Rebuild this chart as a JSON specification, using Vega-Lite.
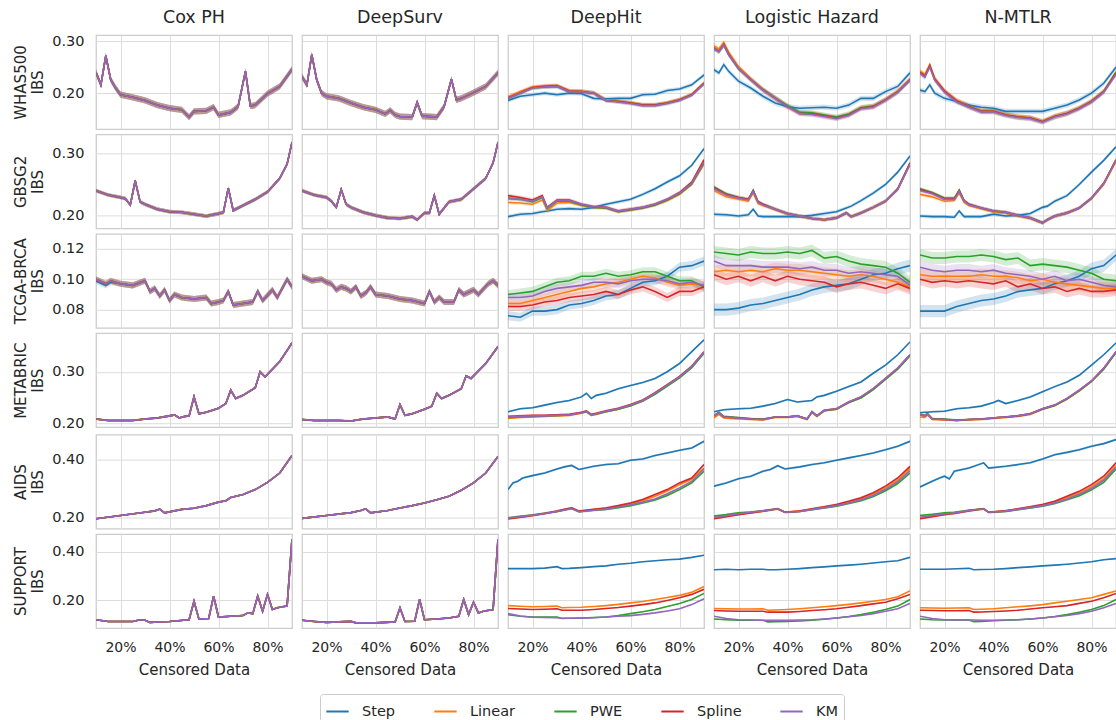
{
"$schema":"https://vega.github.io/schema/vega-lite/v6.json",
"padding":{"left":13,"top":8,"right":0,"bottom":5},
"background":"white",
"config":{
"font":"DejaVu Sans",
"view":{"stroke":"#cccccc","strokeWidth":1.25},
"axis":{"gridColor":"#dddddd","gridWidth":1,"domain":false,"ticks":false,"labelColor":"#262626","titleColor":"#262626","labelFontSize":14,"titleFontSize":15,"titleFontWeight":"normal"},
"axisY":{"labelPadding":11,"labelFontSize":14.5,"titlePadding":6,"titleLineHeight":17},
"axisX":{"labelPadding":11,"titlePadding":8},
"header":{"labelColor":"#262626","labelFontSize":17.5}
},
"datasets":{"pn":[
{"p":"cW","m":"Cox PH","d":"WHAS500","e":0.006},{"p":"sW","m":"DeepSurv","d":"WHAS500","e":0.006},{"p":"hW","m":"DeepHit","d":"WHAS500","e":0.004},{"p":"lW","m":"Logistic Hazard","d":"WHAS500","e":0.005},{"p":"nW","m":"N-MTLR","d":"WHAS500","e":0.005},
{"p":"cG","m":"Cox PH","d":"GBSG2","e":0.003},{"p":"sG","m":"DeepSurv","d":"GBSG2","e":0.003},{"p":"hG","m":"DeepHit","d":"GBSG2","e":0.003},{"p":"lG","m":"Logistic Hazard","d":"GBSG2","e":0.003},{"p":"nG","m":"N-MTLR","d":"GBSG2","e":0.003},
{"p":"cT","m":"Cox PH","d":"TCGA-BRCA","e":0.002},{"p":"sT","m":"DeepSurv","d":"TCGA-BRCA","e":0.002},{"p":"hT","m":"DeepHit","d":"TCGA-BRCA","e":0.003},{"p":"lT","m":"Logistic Hazard","d":"TCGA-BRCA","e":0.004},{"p":"nT","m":"N-MTLR","d":"TCGA-BRCA","e":0.004},
{"p":"cM","m":"Cox PH","d":"METABRIC","e":0.002},{"p":"sM","m":"DeepSurv","d":"METABRIC","e":0.002},{"p":"hM","m":"DeepHit","d":"METABRIC","e":0.002},{"p":"lM","m":"Logistic Hazard","d":"METABRIC","e":0.002},{"p":"nM","m":"N-MTLR","d":"METABRIC","e":0.002},
{"p":"cA","m":"Cox PH","d":"AIDS","e":0.002},{"p":"sA","m":"DeepSurv","d":"AIDS","e":0.002},{"p":"hA","m":"DeepHit","d":"AIDS","e":0.004},{"p":"lA","m":"Logistic Hazard","d":"AIDS","e":0.004},{"p":"nA","m":"N-MTLR","d":"AIDS","e":0.004},
{"p":"cU","m":"Cox PH","d":"SUPPORT","e":0.002},{"p":"sU","m":"DeepSurv","d":"SUPPORT","e":0.002},{"p":"hU","m":"DeepHit","d":"SUPPORT","e":0.002},{"p":"lU","m":"Logistic Hazard","d":"SUPPORT","e":0.002},{"p":"nU","m":"N-MTLR","d":"SUPPORT","e":0.002}
]},
"data":{"values":[
{"p":"cW","x":10,"S":0.24,"L":0.24,"P":0.24,"R":0.24,"K":0.24},
{"p":"cW","x":12,"S":0.216,"L":0.216,"P":0.216,"R":0.216,"K":0.216},
{"p":"cW","x":14,"S":0.272,"L":0.272,"P":0.272,"R":0.272,"K":0.272},
{"p":"cW","x":16,"S":0.226,"L":0.226,"P":0.226,"R":0.226,"K":0.226},
{"p":"cW","x":18,"S":0.21,"L":0.21,"P":0.21,"R":0.21,"K":0.21},
{"p":"cW","x":20,"S":0.197,"L":0.197,"P":0.197,"R":0.197,"K":0.197},
{"p":"cW","x":25,"S":0.192,"L":0.192,"P":0.192,"R":0.192,"K":0.192},
{"p":"cW","x":30,"S":0.186,"L":0.186,"P":0.186,"R":0.186,"K":0.186},
{"p":"cW","x":35,"S":0.177,"L":0.177,"P":0.177,"R":0.177,"K":0.177},
{"p":"cW","x":40,"S":0.171,"L":0.171,"P":0.171,"R":0.171,"K":0.171},
{"p":"cW","x":45,"S":0.168,"L":0.168,"P":0.168,"R":0.168,"K":0.168},
{"p":"cW","x":48,"S":0.154,"L":0.154,"P":0.154,"R":0.154,"K":0.154},
{"p":"cW","x":50,"S":0.165,"L":0.165,"P":0.165,"R":0.165,"K":0.165},
{"p":"cW","x":55,"S":0.166,"L":0.166,"P":0.166,"R":0.166,"K":0.166},
{"p":"cW","x":58,"S":0.173,"L":0.173,"P":0.173,"R":0.173,"K":0.173},
{"p":"cW","x":60,"S":0.158,"L":0.158,"P":0.158,"R":0.158,"K":0.158},
{"p":"cW","x":65,"S":0.163,"L":0.163,"P":0.163,"R":0.163,"K":0.163},
{"p":"cW","x":68,"S":0.174,"L":0.174,"P":0.174,"R":0.174,"K":0.174},
{"p":"cW","x":71,"S":0.242,"L":0.242,"P":0.242,"R":0.242,"K":0.242},
{"p":"cW","x":73,"S":0.175,"L":0.175,"P":0.175,"R":0.175,"K":0.175},
{"p":"cW","x":75,"S":0.177,"L":0.177,"P":0.177,"R":0.177,"K":0.177},
{"p":"cW","x":80,"S":0.199,"L":0.199,"P":0.199,"R":0.199,"K":0.199},
{"p":"cW","x":85,"S":0.213,"L":0.213,"P":0.213,"R":0.213,"K":0.213},
{"p":"cW","x":90,"S":0.246,"L":0.246,"P":0.246,"R":0.246,"K":0.246},
{"p":"sW","x":10,"S":0.232,"L":0.232,"P":0.232,"R":0.232,"K":0.232},
{"p":"sW","x":12,"S":0.216,"L":0.216,"P":0.216,"R":0.216,"K":0.216},
{"p":"sW","x":14,"S":0.274,"L":0.274,"P":0.274,"R":0.274,"K":0.274},
{"p":"sW","x":16,"S":0.226,"L":0.226,"P":0.226,"R":0.226,"K":0.226},
{"p":"sW","x":18,"S":0.2,"L":0.2,"P":0.2,"R":0.2,"K":0.2},
{"p":"sW","x":20,"S":0.194,"L":0.194,"P":0.194,"R":0.194,"K":0.194},
{"p":"sW","x":25,"S":0.19,"L":0.19,"P":0.19,"R":0.19,"K":0.19},
{"p":"sW","x":30,"S":0.181,"L":0.181,"P":0.181,"R":0.181,"K":0.181},
{"p":"sW","x":35,"S":0.173,"L":0.173,"P":0.173,"R":0.173,"K":0.173},
{"p":"sW","x":40,"S":0.168,"L":0.168,"P":0.168,"R":0.168,"K":0.168},
{"p":"sW","x":44,"S":0.16,"L":0.16,"P":0.16,"R":0.16,"K":0.16},
{"p":"sW","x":46,"S":0.167,"L":0.167,"P":0.167,"R":0.167,"K":0.167},
{"p":"sW","x":48,"S":0.158,"L":0.158,"P":0.158,"R":0.158,"K":0.158},
{"p":"sW","x":50,"S":0.155,"L":0.155,"P":0.155,"R":0.155,"K":0.155},
{"p":"sW","x":55,"S":0.154,"L":0.154,"P":0.154,"R":0.154,"K":0.154},
{"p":"sW","x":57,"S":0.182,"L":0.182,"P":0.182,"R":0.182,"K":0.182},
{"p":"sW","x":59,"S":0.156,"L":0.156,"P":0.156,"R":0.156,"K":0.156},
{"p":"sW","x":65,"S":0.154,"L":0.154,"P":0.154,"R":0.154,"K":0.154},
{"p":"sW","x":68,"S":0.174,"L":0.174,"P":0.174,"R":0.174,"K":0.174},
{"p":"sW","x":71,"S":0.227,"L":0.227,"P":0.227,"R":0.227,"K":0.227},
{"p":"sW","x":73,"S":0.187,"L":0.187,"P":0.187,"R":0.187,"K":0.187},
{"p":"sW","x":75,"S":0.19,"L":0.19,"P":0.19,"R":0.19,"K":0.19},
{"p":"sW","x":80,"S":0.201,"L":0.201,"P":0.201,"R":0.201,"K":0.201},
{"p":"sW","x":85,"S":0.213,"L":0.213,"P":0.213,"R":0.213,"K":0.213},
{"p":"sW","x":90,"S":0.239,"L":0.239,"P":0.239,"R":0.239,"K":0.239},
{"p":"hW","x":10,"S":0.186,"L":0.193,"P":0.19,"R":0.191,"K":0.19},
{"p":"hW","x":15,"S":0.194,"L":0.203,"P":0.2,"R":0.201,"K":0.2},
{"p":"hW","x":20,"S":0.197,"L":0.212,"P":0.21,"R":0.211,"K":0.21},
{"p":"hW","x":25,"S":0.2,"L":0.214,"P":0.212,"R":0.213,"K":0.212},
{"p":"hW","x":30,"S":0.197,"L":0.215,"P":0.213,"R":0.214,"K":0.213},
{"p":"hW","x":35,"S":0.2,"L":0.205,"P":0.203,"R":0.204,"K":0.203},
{"p":"hW","x":40,"S":0.199,"L":0.204,"P":0.203,"R":0.203,"K":0.203},
{"p":"hW","x":45,"S":0.19,"L":0.201,"P":0.2,"R":0.2,"K":0.2},
{"p":"hW","x":50,"S":0.189,"L":0.187,"P":0.186,"R":0.186,"K":0.186},
{"p":"hW","x":55,"S":0.19,"L":0.185,"P":0.184,"R":0.184,"K":0.183},
{"p":"hW","x":60,"S":0.19,"L":0.182,"P":0.181,"R":0.181,"K":0.18},
{"p":"hW","x":65,"S":0.197,"L":0.178,"P":0.177,"R":0.177,"K":0.176},
{"p":"hW","x":70,"S":0.198,"L":0.178,"P":0.177,"R":0.177,"K":0.176},
{"p":"hW","x":75,"S":0.205,"L":0.182,"P":0.181,"R":0.181,"K":0.18},
{"p":"hW","x":80,"S":0.208,"L":0.188,"P":0.187,"R":0.187,"K":0.186},
{"p":"hW","x":85,"S":0.216,"L":0.198,"P":0.197,"R":0.197,"K":0.196},
{"p":"hW","x":90,"S":0.235,"L":0.22,"P":0.219,"R":0.219,"K":0.218},
{"p":"lW","x":10,"S":0.245,"L":0.291,"P":0.285,"R":0.287,"K":0.286},
{"p":"lW","x":12,"S":0.239,"L":0.285,"P":0.28,"R":0.281,"K":0.28},
{"p":"lW","x":14,"S":0.255,"L":0.298,"P":0.292,"R":0.294,"K":0.293},
{"p":"lW","x":16,"S":0.242,"L":0.279,"P":0.274,"R":0.275,"K":0.274},
{"p":"lW","x":20,"S":0.223,"L":0.251,"P":0.247,"R":0.248,"K":0.248},
{"p":"lW","x":25,"S":0.21,"L":0.228,"P":0.226,"R":0.226,"K":0.226},
{"p":"lW","x":30,"S":0.194,"L":0.207,"P":0.207,"R":0.206,"K":0.206},
{"p":"lW","x":35,"S":0.181,"L":0.191,"P":0.191,"R":0.19,"K":0.19},
{"p":"lW","x":40,"S":0.174,"L":0.175,"P":0.176,"R":0.174,"K":0.174},
{"p":"lW","x":45,"S":0.171,"L":0.162,"P":0.163,"R":0.161,"K":0.161},
{"p":"lW","x":50,"S":0.172,"L":0.161,"P":0.162,"R":0.16,"K":0.159},
{"p":"lW","x":55,"S":0.173,"L":0.157,"P":0.158,"R":0.156,"K":0.155},
{"p":"lW","x":60,"S":0.171,"L":0.153,"P":0.154,"R":0.152,"K":0.151},
{"p":"lW","x":65,"S":0.177,"L":0.159,"P":0.16,"R":0.158,"K":0.157},
{"p":"lW","x":70,"S":0.19,"L":0.172,"P":0.172,"R":0.171,"K":0.17},
{"p":"lW","x":75,"S":0.19,"L":0.175,"P":0.175,"R":0.174,"K":0.173},
{"p":"lW","x":80,"S":0.203,"L":0.188,"P":0.187,"R":0.187,"K":0.186},
{"p":"lW","x":85,"S":0.213,"L":0.204,"P":0.202,"R":0.203,"K":0.202},
{"p":"lW","x":90,"S":0.239,"L":0.227,"P":0.225,"R":0.226,"K":0.225},
{"p":"nW","x":10,"S":0.206,"L":0.243,"P":0.239,"R":0.24,"K":0.238},
{"p":"nW","x":12,"S":0.203,"L":0.236,"P":0.232,"R":0.233,"K":0.231},
{"p":"nW","x":14,"S":0.216,"L":0.255,"P":0.252,"R":0.253,"K":0.25},
{"p":"nW","x":16,"S":0.2,"L":0.229,"P":0.226,"R":0.227,"K":0.225},
{"p":"nW","x":20,"S":0.19,"L":0.205,"P":0.203,"R":0.204,"K":0.202},
{"p":"nW","x":25,"S":0.184,"L":0.186,"P":0.184,"R":0.185,"K":0.183},
{"p":"nW","x":30,"S":0.177,"L":0.175,"P":0.174,"R":0.174,"K":0.173},
{"p":"nW","x":35,"S":0.173,"L":0.166,"P":0.165,"R":0.165,"K":0.164},
{"p":"nW","x":40,"S":0.171,"L":0.166,"P":0.165,"R":0.165,"K":0.164},
{"p":"nW","x":45,"S":0.165,"L":0.159,"P":0.158,"R":0.158,"K":0.157},
{"p":"nW","x":50,"S":0.165,"L":0.155,"P":0.154,"R":0.154,"K":0.153},
{"p":"nW","x":55,"S":0.165,"L":0.153,"P":0.152,"R":0.152,"K":0.151},
{"p":"nW","x":60,"S":0.165,"L":0.146,"P":0.145,"R":0.145,"K":0.144},
{"p":"nW","x":65,"S":0.171,"L":0.156,"P":0.155,"R":0.155,"K":0.154},
{"p":"nW","x":70,"S":0.177,"L":0.162,"P":0.161,"R":0.161,"K":0.16},
{"p":"nW","x":75,"S":0.187,"L":0.172,"P":0.171,"R":0.171,"K":0.17},
{"p":"nW","x":80,"S":0.2,"L":0.185,"P":0.184,"R":0.184,"K":0.183},
{"p":"nW","x":85,"S":0.219,"L":0.204,"P":0.203,"R":0.203,"K":0.202},
{"p":"nW","x":90,"S":0.25,"L":0.241,"P":0.24,"R":0.238,"K":0.236},
{"p":"cG","x":10,"S":0.24,"L":0.24,"P":0.24,"R":0.24,"K":0.24},
{"p":"cG","x":15,"S":0.233,"L":0.233,"P":0.233,"R":0.233,"K":0.233},
{"p":"cG","x":20,"S":0.229,"L":0.229,"P":0.229,"R":0.229,"K":0.229},
{"p":"cG","x":22,"S":0.227,"L":0.227,"P":0.227,"R":0.227,"K":0.227},
{"p":"cG","x":24,"S":0.217,"L":0.217,"P":0.217,"R":0.217,"K":0.217},
{"p":"cG","x":26,"S":0.256,"L":0.256,"P":0.256,"R":0.256,"K":0.256},
{"p":"cG","x":28,"S":0.222,"L":0.222,"P":0.222,"R":0.222,"K":0.222},
{"p":"cG","x":30,"S":0.218,"L":0.218,"P":0.218,"R":0.218,"K":0.218},
{"p":"cG","x":35,"S":0.21,"L":0.21,"P":0.21,"R":0.21,"K":0.21},
{"p":"cG","x":40,"S":0.206,"L":0.206,"P":0.206,"R":0.206,"K":0.206},
{"p":"cG","x":45,"S":0.205,"L":0.205,"P":0.205,"R":0.205,"K":0.205},
{"p":"cG","x":50,"S":0.202,"L":0.202,"P":0.202,"R":0.202,"K":0.202},
{"p":"cG","x":55,"S":0.199,"L":0.199,"P":0.199,"R":0.199,"K":0.199},
{"p":"cG","x":60,"S":0.203,"L":0.203,"P":0.203,"R":0.203,"K":0.203},
{"p":"cG","x":62,"S":0.205,"L":0.205,"P":0.205,"R":0.205,"K":0.205},
{"p":"cG","x":64,"S":0.244,"L":0.244,"P":0.244,"R":0.244,"K":0.244},
{"p":"cG","x":66,"S":0.208,"L":0.208,"P":0.208,"R":0.208,"K":0.208},
{"p":"cG","x":70,"S":0.216,"L":0.216,"P":0.216,"R":0.216,"K":0.216},
{"p":"cG","x":75,"S":0.226,"L":0.226,"P":0.226,"R":0.226,"K":0.226},
{"p":"cG","x":80,"S":0.238,"L":0.238,"P":0.238,"R":0.238,"K":0.238},
{"p":"cG","x":85,"S":0.26,"L":0.26,"P":0.26,"R":0.26,"K":0.26},
{"p":"cG","x":88,"S":0.283,"L":0.283,"P":0.283,"R":0.283,"K":0.283},
{"p":"cG","x":90,"S":0.318,"L":0.318,"P":0.318,"R":0.318,"K":0.318},
{"p":"sG","x":10,"S":0.24,"L":0.24,"P":0.24,"R":0.24,"K":0.24},
{"p":"sG","x":15,"S":0.233,"L":0.233,"P":0.233,"R":0.233,"K":0.233},
{"p":"sG","x":20,"S":0.229,"L":0.229,"P":0.229,"R":0.229,"K":0.229},
{"p":"sG","x":22,"S":0.223,"L":0.223,"P":0.223,"R":0.223,"K":0.223},
{"p":"sG","x":24,"S":0.213,"L":0.213,"P":0.213,"R":0.213,"K":0.213},
{"p":"sG","x":26,"S":0.242,"L":0.242,"P":0.242,"R":0.242,"K":0.242},
{"p":"sG","x":28,"S":0.218,"L":0.218,"P":0.218,"R":0.218,"K":0.218},
{"p":"sG","x":30,"S":0.213,"L":0.213,"P":0.213,"R":0.213,"K":0.213},
{"p":"sG","x":35,"S":0.205,"L":0.205,"P":0.205,"R":0.205,"K":0.205},
{"p":"sG","x":40,"S":0.2,"L":0.2,"P":0.2,"R":0.2,"K":0.2},
{"p":"sG","x":45,"S":0.196,"L":0.196,"P":0.196,"R":0.196,"K":0.196},
{"p":"sG","x":50,"S":0.195,"L":0.195,"P":0.195,"R":0.195,"K":0.195},
{"p":"sG","x":55,"S":0.198,"L":0.198,"P":0.198,"R":0.198,"K":0.198},
{"p":"sG","x":57,"S":0.193,"L":0.193,"P":0.193,"R":0.193,"K":0.193},
{"p":"sG","x":60,"S":0.204,"L":0.204,"P":0.204,"R":0.204,"K":0.204},
{"p":"sG","x":62,"S":0.204,"L":0.204,"P":0.204,"R":0.204,"K":0.204},
{"p":"sG","x":64,"S":0.232,"L":0.232,"P":0.232,"R":0.232,"K":0.232},
{"p":"sG","x":66,"S":0.202,"L":0.202,"P":0.202,"R":0.202,"K":0.202},
{"p":"sG","x":70,"S":0.222,"L":0.222,"P":0.222,"R":0.222,"K":0.222},
{"p":"sG","x":75,"S":0.226,"L":0.226,"P":0.226,"R":0.226,"K":0.226},
{"p":"sG","x":80,"S":0.243,"L":0.243,"P":0.243,"R":0.243,"K":0.243},
{"p":"sG","x":85,"S":0.26,"L":0.26,"P":0.26,"R":0.26,"K":0.26},
{"p":"sG","x":88,"S":0.285,"L":0.285,"P":0.285,"R":0.285,"K":0.285},
{"p":"sG","x":90,"S":0.318,"L":0.318,"P":0.318,"R":0.318,"K":0.318},
{"p":"hG","x":10,"S":0.198,"L":0.221,"P":0.228,"R":0.232,"K":0.227},
{"p":"hG","x":15,"S":0.202,"L":0.22,"P":0.226,"R":0.229,"K":0.226},
{"p":"hG","x":20,"S":0.203,"L":0.218,"P":0.222,"R":0.225,"K":0.223},
{"p":"hG","x":24,"S":0.206,"L":0.225,"P":0.229,"R":0.232,"K":0.23},
{"p":"hG","x":26,"S":0.207,"L":0.208,"P":0.211,"R":0.213,"K":0.212},
{"p":"hG","x":30,"S":0.21,"L":0.22,"P":0.223,"R":0.225,"K":0.224},
{"p":"hG","x":35,"S":0.211,"L":0.221,"P":0.223,"R":0.225,"K":0.224},
{"p":"hG","x":40,"S":0.21,"L":0.216,"P":0.217,"R":0.218,"K":0.218},
{"p":"hG","x":45,"S":0.213,"L":0.213,"P":0.213,"R":0.214,"K":0.214},
{"p":"hG","x":50,"S":0.218,"L":0.212,"P":0.212,"R":0.213,"K":0.213},
{"p":"hG","x":55,"S":0.222,"L":0.206,"P":0.206,"R":0.207,"K":0.207},
{"p":"hG","x":60,"S":0.226,"L":0.209,"P":0.209,"R":0.21,"K":0.21},
{"p":"hG","x":65,"S":0.234,"L":0.212,"P":0.212,"R":0.213,"K":0.213},
{"p":"hG","x":70,"S":0.243,"L":0.217,"P":0.217,"R":0.218,"K":0.218},
{"p":"hG","x":75,"S":0.254,"L":0.224,"P":0.225,"R":0.226,"K":0.226},
{"p":"hG","x":80,"S":0.264,"L":0.234,"P":0.235,"R":0.237,"K":0.236},
{"p":"hG","x":85,"S":0.281,"L":0.25,"P":0.251,"R":0.254,"K":0.252},
{"p":"hG","x":90,"S":0.308,"L":0.283,"P":0.285,"R":0.29,"K":0.286},
{"p":"lG","x":10,"S":0.202,"L":0.24,"P":0.246,"R":0.245,"K":0.243},
{"p":"lG","x":15,"S":0.201,"L":0.23,"P":0.235,"R":0.234,"K":0.233},
{"p":"lG","x":20,"S":0.199,"L":0.226,"P":0.229,"R":0.229,"K":0.228},
{"p":"lG","x":24,"S":0.201,"L":0.223,"P":0.226,"R":0.226,"K":0.225},
{"p":"lG","x":26,"S":0.21,"L":0.236,"P":0.241,"R":0.24,"K":0.239},
{"p":"lG","x":28,"S":0.199,"L":0.219,"P":0.222,"R":0.222,"K":0.221},
{"p":"lG","x":30,"S":0.198,"L":0.216,"P":0.218,"R":0.218,"K":0.217},
{"p":"lG","x":35,"S":0.198,"L":0.209,"P":0.21,"R":0.21,"K":0.21},
{"p":"lG","x":40,"S":0.198,"L":0.202,"P":0.203,"R":0.203,"K":0.203},
{"p":"lG","x":45,"S":0.198,"L":0.199,"P":0.199,"R":0.199,"K":0.199},
{"p":"lG","x":50,"S":0.2,"L":0.195,"P":0.195,"R":0.195,"K":0.195},
{"p":"lG","x":55,"S":0.203,"L":0.193,"P":0.193,"R":0.193,"K":0.193},
{"p":"lG","x":60,"S":0.206,"L":0.196,"P":0.196,"R":0.196,"K":0.196},
{"p":"lG","x":64,"S":0.212,"L":0.204,"P":0.204,"R":0.204,"K":0.204},
{"p":"lG","x":66,"S":0.215,"L":0.198,"P":0.198,"R":0.198,"K":0.198},
{"p":"lG","x":70,"S":0.224,"L":0.204,"P":0.204,"R":0.204,"K":0.204},
{"p":"lG","x":75,"S":0.236,"L":0.213,"P":0.213,"R":0.213,"K":0.213},
{"p":"lG","x":80,"S":0.25,"L":0.223,"P":0.223,"R":0.223,"K":0.223},
{"p":"lG","x":85,"S":0.27,"L":0.242,"P":0.243,"R":0.243,"K":0.242},
{"p":"lG","x":90,"S":0.296,"L":0.282,"P":0.284,"R":0.285,"K":0.283},
{"p":"nG","x":10,"S":0.199,"L":0.234,"P":0.243,"R":0.242,"K":0.24},
{"p":"nG","x":15,"S":0.198,"L":0.23,"P":0.237,"R":0.236,"K":0.235},
{"p":"nG","x":20,"S":0.198,"L":0.223,"P":0.228,"R":0.227,"K":0.226},
{"p":"nG","x":24,"S":0.197,"L":0.224,"P":0.228,"R":0.227,"K":0.226},
{"p":"nG","x":26,"S":0.207,"L":0.236,"P":0.241,"R":0.24,"K":0.239},
{"p":"nG","x":28,"S":0.198,"L":0.221,"P":0.224,"R":0.224,"K":0.223},
{"p":"nG","x":30,"S":0.198,"L":0.216,"P":0.218,"R":0.218,"K":0.217},
{"p":"nG","x":35,"S":0.198,"L":0.211,"P":0.212,"R":0.212,"K":0.212},
{"p":"nG","x":40,"S":0.202,"L":0.206,"P":0.207,"R":0.207,"K":0.207},
{"p":"nG","x":45,"S":0.199,"L":0.204,"P":0.205,"R":0.205,"K":0.205},
{"p":"nG","x":50,"S":0.2,"L":0.199,"P":0.2,"R":0.2,"K":0.2},
{"p":"nG","x":55,"S":0.203,"L":0.195,"P":0.196,"R":0.196,"K":0.196},
{"p":"nG","x":60,"S":0.213,"L":0.188,"P":0.188,"R":0.188,"K":0.188},
{"p":"nG","x":62,"S":0.215,"L":0.193,"P":0.193,"R":0.193,"K":0.193},
{"p":"nG","x":65,"S":0.223,"L":0.199,"P":0.199,"R":0.199,"K":0.199},
{"p":"nG","x":70,"S":0.232,"L":0.204,"P":0.204,"R":0.204,"K":0.204},
{"p":"nG","x":75,"S":0.25,"L":0.212,"P":0.212,"R":0.212,"K":0.212},
{"p":"nG","x":80,"S":0.27,"L":0.227,"P":0.228,"R":0.228,"K":0.228},
{"p":"nG","x":85,"S":0.289,"L":0.25,"P":0.252,"R":0.252,"K":0.251},
{"p":"nG","x":90,"S":0.311,"L":0.287,"P":0.29,"R":0.29,"K":0.289},
{"p":"cT","x":10,"S":0.099,"L":0.1,"P":0.1,"R":0.1,"K":0.1},
{"p":"cT","x":14,"S":0.096,"L":0.097,"P":0.097,"R":0.097,"K":0.097},
{"p":"cT","x":16,"S":0.098,"L":0.099,"P":0.099,"R":0.099,"K":0.099},
{"p":"cT","x":20,"S":0.097,"L":0.097,"P":0.097,"R":0.097,"K":0.097},
{"p":"cT","x":25,"S":0.096,"L":0.096,"P":0.096,"R":0.096,"K":0.096},
{"p":"cT","x":30,"S":0.099,"L":0.099,"P":0.099,"R":0.099,"K":0.099},
{"p":"cT","x":32,"S":0.092,"L":0.092,"P":0.092,"R":0.092,"K":0.092},
{"p":"cT","x":34,"S":0.094,"L":0.094,"P":0.094,"R":0.094,"K":0.094},
{"p":"cT","x":36,"S":0.089,"L":0.089,"P":0.089,"R":0.089,"K":0.089},
{"p":"cT","x":38,"S":0.093,"L":0.093,"P":0.093,"R":0.093,"K":0.093},
{"p":"cT","x":40,"S":0.086,"L":0.086,"P":0.086,"R":0.086,"K":0.086},
{"p":"cT","x":42,"S":0.09,"L":0.09,"P":0.09,"R":0.09,"K":0.09},
{"p":"cT","x":45,"S":0.088,"L":0.088,"P":0.088,"R":0.088,"K":0.088},
{"p":"cT","x":50,"S":0.087,"L":0.087,"P":0.087,"R":0.087,"K":0.087},
{"p":"cT","x":55,"S":0.088,"L":0.088,"P":0.088,"R":0.088,"K":0.088},
{"p":"cT","x":57,"S":0.084,"L":0.084,"P":0.084,"R":0.084,"K":0.084},
{"p":"cT","x":60,"S":0.085,"L":0.085,"P":0.085,"R":0.085,"K":0.085},
{"p":"cT","x":62,"S":0.086,"L":0.086,"P":0.086,"R":0.086,"K":0.086},
{"p":"cT","x":64,"S":0.092,"L":0.092,"P":0.092,"R":0.092,"K":0.092},
{"p":"cT","x":66,"S":0.083,"L":0.083,"P":0.083,"R":0.083,"K":0.083},
{"p":"cT","x":70,"S":0.084,"L":0.084,"P":0.084,"R":0.084,"K":0.084},
{"p":"cT","x":74,"S":0.085,"L":0.085,"P":0.085,"R":0.085,"K":0.085},
{"p":"cT","x":76,"S":0.092,"L":0.092,"P":0.092,"R":0.092,"K":0.092},
{"p":"cT","x":78,"S":0.086,"L":0.086,"P":0.086,"R":0.086,"K":0.086},
{"p":"cT","x":82,"S":0.093,"L":0.093,"P":0.093,"R":0.093,"K":0.093},
{"p":"cT","x":84,"S":0.088,"L":0.088,"P":0.088,"R":0.088,"K":0.088},
{"p":"cT","x":88,"S":0.1,"L":0.1,"P":0.1,"R":0.1,"K":0.1},
{"p":"cT","x":90,"S":0.095,"L":0.095,"P":0.095,"R":0.095,"K":0.095},
{"p":"sT","x":10,"S":0.102,"L":0.102,"P":0.102,"R":0.102,"K":0.102},
{"p":"sT","x":14,"S":0.099,"L":0.099,"P":0.099,"R":0.099,"K":0.099},
{"p":"sT","x":18,"S":0.1,"L":0.1,"P":0.1,"R":0.1,"K":0.1},
{"p":"sT","x":20,"S":0.098,"L":0.098,"P":0.098,"R":0.098,"K":0.098},
{"p":"sT","x":22,"S":0.097,"L":0.097,"P":0.097,"R":0.097,"K":0.097},
{"p":"sT","x":24,"S":0.093,"L":0.093,"P":0.093,"R":0.093,"K":0.093},
{"p":"sT","x":26,"S":0.095,"L":0.095,"P":0.095,"R":0.095,"K":0.095},
{"p":"sT","x":28,"S":0.094,"L":0.094,"P":0.094,"R":0.094,"K":0.094},
{"p":"sT","x":30,"S":0.092,"L":0.092,"P":0.092,"R":0.092,"K":0.092},
{"p":"sT","x":32,"S":0.095,"L":0.095,"P":0.095,"R":0.095,"K":0.095},
{"p":"sT","x":34,"S":0.089,"L":0.089,"P":0.089,"R":0.089,"K":0.089},
{"p":"sT","x":36,"S":0.091,"L":0.091,"P":0.091,"R":0.091,"K":0.091},
{"p":"sT","x":38,"S":0.095,"L":0.095,"P":0.095,"R":0.095,"K":0.095},
{"p":"sT","x":40,"S":0.09,"L":0.09,"P":0.09,"R":0.09,"K":0.09},
{"p":"sT","x":45,"S":0.089,"L":0.089,"P":0.089,"R":0.089,"K":0.089},
{"p":"sT","x":50,"S":0.087,"L":0.087,"P":0.087,"R":0.087,"K":0.087},
{"p":"sT","x":55,"S":0.086,"L":0.086,"P":0.086,"R":0.086,"K":0.086},
{"p":"sT","x":60,"S":0.084,"L":0.084,"P":0.084,"R":0.084,"K":0.084},
{"p":"sT","x":62,"S":0.092,"L":0.092,"P":0.092,"R":0.092,"K":0.092},
{"p":"sT","x":64,"S":0.085,"L":0.085,"P":0.085,"R":0.085,"K":0.085},
{"p":"sT","x":66,"S":0.088,"L":0.088,"P":0.088,"R":0.088,"K":0.088},
{"p":"sT","x":68,"S":0.085,"L":0.085,"P":0.085,"R":0.085,"K":0.085},
{"p":"sT","x":72,"S":0.085,"L":0.085,"P":0.085,"R":0.085,"K":0.085},
{"p":"sT","x":74,"S":0.093,"L":0.093,"P":0.093,"R":0.093,"K":0.093},
{"p":"sT","x":76,"S":0.09,"L":0.09,"P":0.09,"R":0.09,"K":0.09},
{"p":"sT","x":80,"S":0.093,"L":0.093,"P":0.093,"R":0.093,"K":0.093},
{"p":"sT","x":82,"S":0.09,"L":0.09,"P":0.09,"R":0.09,"K":0.09},
{"p":"sT","x":86,"S":0.097,"L":0.097,"P":0.097,"R":0.097,"K":0.097},
{"p":"sT","x":88,"S":0.099,"L":0.099,"P":0.099,"R":0.099,"K":0.099},
{"p":"sT","x":90,"S":0.096,"L":0.096,"P":0.096,"R":0.096,"K":0.096},
{"p":"hT","x":10,"S":0.076,"L":0.084,"P":0.09,"R":0.082,"K":0.088},
{"p":"hT","x":15,"S":0.075,"L":0.084,"P":0.091,"R":0.082,"K":0.088},
{"p":"hT","x":20,"S":0.079,"L":0.086,"P":0.092,"R":0.083,"K":0.089},
{"p":"hT","x":25,"S":0.079,"L":0.088,"P":0.095,"R":0.085,"K":0.092},
{"p":"hT","x":30,"S":0.08,"L":0.09,"P":0.098,"R":0.086,"K":0.094},
{"p":"hT","x":35,"S":0.083,"L":0.092,"P":0.099,"R":0.088,"K":0.095},
{"p":"hT","x":40,"S":0.084,"L":0.094,"P":0.102,"R":0.089,"K":0.096},
{"p":"hT","x":45,"S":0.086,"L":0.095,"P":0.102,"R":0.09,"K":0.098},
{"p":"hT","x":50,"S":0.089,"L":0.097,"P":0.104,"R":0.092,"K":0.098},
{"p":"hT","x":55,"S":0.09,"L":0.098,"P":0.102,"R":0.09,"K":0.097},
{"p":"hT","x":60,"S":0.094,"L":0.1,"P":0.103,"R":0.093,"K":0.099},
{"p":"hT","x":65,"S":0.098,"L":0.102,"P":0.105,"R":0.095,"K":0.1},
{"p":"hT","x":70,"S":0.099,"L":0.101,"P":0.105,"R":0.092,"K":0.1},
{"p":"hT","x":75,"S":0.102,"L":0.098,"P":0.102,"R":0.088,"K":0.099},
{"p":"hT","x":80,"S":0.108,"L":0.096,"P":0.099,"R":0.092,"K":0.097},
{"p":"hT","x":85,"S":0.109,"L":0.097,"P":0.099,"R":0.092,"K":0.098},
{"p":"hT","x":90,"S":0.112,"L":0.096,"P":0.095,"R":0.095,"K":0.096},
{"p":"lT","x":10,"S":0.08,"L":0.105,"P":0.118,"R":0.103,"K":0.112},
{"p":"lT","x":15,"S":0.08,"L":0.106,"P":0.117,"R":0.1,"K":0.109},
{"p":"lT","x":20,"S":0.081,"L":0.105,"P":0.116,"R":0.102,"K":0.109},
{"p":"lT","x":25,"S":0.083,"L":0.106,"P":0.118,"R":0.099,"K":0.109},
{"p":"lT","x":30,"S":0.084,"L":0.105,"P":0.117,"R":0.102,"K":0.108},
{"p":"lT","x":35,"S":0.086,"L":0.107,"P":0.117,"R":0.099,"K":0.108},
{"p":"lT","x":40,"S":0.088,"L":0.106,"P":0.118,"R":0.102,"K":0.108},
{"p":"lT","x":45,"S":0.09,"L":0.106,"P":0.117,"R":0.1,"K":0.107},
{"p":"lT","x":50,"S":0.093,"L":0.105,"P":0.119,"R":0.099,"K":0.108},
{"p":"lT","x":55,"S":0.095,"L":0.104,"P":0.114,"R":0.098,"K":0.106},
{"p":"lT","x":60,"S":0.096,"L":0.103,"P":0.115,"R":0.095,"K":0.106},
{"p":"lT","x":65,"S":0.097,"L":0.102,"P":0.112,"R":0.097,"K":0.104},
{"p":"lT","x":70,"S":0.1,"L":0.103,"P":0.11,"R":0.098,"K":0.105},
{"p":"lT","x":75,"S":0.103,"L":0.102,"P":0.109,"R":0.096,"K":0.104},
{"p":"lT","x":80,"S":0.104,"L":0.1,"P":0.108,"R":0.094,"K":0.103},
{"p":"lT","x":85,"S":0.107,"L":0.098,"P":0.104,"R":0.097,"K":0.102},
{"p":"lT","x":90,"S":0.109,"L":0.095,"P":0.098,"R":0.094,"K":0.096},
{"p":"nT","x":10,"S":0.079,"L":0.103,"P":0.116,"R":0.1,"K":0.108},
{"p":"nT","x":15,"S":0.079,"L":0.102,"P":0.114,"R":0.098,"K":0.106},
{"p":"nT","x":20,"S":0.079,"L":0.102,"P":0.114,"R":0.099,"K":0.105},
{"p":"nT","x":25,"S":0.082,"L":0.102,"P":0.115,"R":0.098,"K":0.106},
{"p":"nT","x":30,"S":0.084,"L":0.102,"P":0.115,"R":0.099,"K":0.106},
{"p":"nT","x":35,"S":0.086,"L":0.103,"P":0.116,"R":0.098,"K":0.105},
{"p":"nT","x":40,"S":0.087,"L":0.102,"P":0.115,"R":0.097,"K":0.106},
{"p":"nT","x":45,"S":0.089,"L":0.102,"P":0.113,"R":0.099,"K":0.104},
{"p":"nT","x":50,"S":0.092,"L":0.101,"P":0.114,"R":0.095,"K":0.103},
{"p":"nT","x":55,"S":0.093,"L":0.099,"P":0.109,"R":0.097,"K":0.102},
{"p":"nT","x":60,"S":0.094,"L":0.1,"P":0.11,"R":0.094,"K":0.1},
{"p":"nT","x":65,"S":0.097,"L":0.098,"P":0.109,"R":0.095,"K":0.102},
{"p":"nT","x":70,"S":0.099,"L":0.097,"P":0.108,"R":0.092,"K":0.099},
{"p":"nT","x":75,"S":0.102,"L":0.096,"P":0.106,"R":0.094,"K":0.1},
{"p":"nT","x":80,"S":0.107,"L":0.095,"P":0.104,"R":0.092,"K":0.098},
{"p":"nT","x":85,"S":0.109,"L":0.094,"P":0.1,"R":0.092,"K":0.096},
{"p":"nT","x":90,"S":0.116,"L":0.094,"P":0.099,"R":0.093,"K":0.095},
{"p":"cM","x":10,"S":0.208,"L":0.208,"P":0.208,"R":0.208,"K":0.208},
{"p":"cM","x":15,"S":0.205,"L":0.205,"P":0.205,"R":0.205,"K":0.205},
{"p":"cM","x":20,"S":0.205,"L":0.205,"P":0.205,"R":0.205,"K":0.205},
{"p":"cM","x":25,"S":0.205,"L":0.205,"P":0.205,"R":0.205,"K":0.205},
{"p":"cM","x":30,"S":0.208,"L":0.208,"P":0.208,"R":0.208,"K":0.208},
{"p":"cM","x":35,"S":0.21,"L":0.21,"P":0.21,"R":0.21,"K":0.21},
{"p":"cM","x":40,"S":0.214,"L":0.214,"P":0.214,"R":0.214,"K":0.214},
{"p":"cM","x":42,"S":0.216,"L":0.216,"P":0.216,"R":0.216,"K":0.216},
{"p":"cM","x":44,"S":0.21,"L":0.21,"P":0.21,"R":0.21,"K":0.21},
{"p":"cM","x":46,"S":0.213,"L":0.213,"P":0.213,"R":0.213,"K":0.213},
{"p":"cM","x":48,"S":0.214,"L":0.214,"P":0.214,"R":0.214,"K":0.214},
{"p":"cM","x":50,"S":0.251,"L":0.251,"P":0.251,"R":0.251,"K":0.251},
{"p":"cM","x":52,"S":0.218,"L":0.218,"P":0.218,"R":0.218,"K":0.218},
{"p":"cM","x":55,"S":0.221,"L":0.221,"P":0.221,"R":0.221,"K":0.221},
{"p":"cM","x":60,"S":0.229,"L":0.229,"P":0.229,"R":0.229,"K":0.229},
{"p":"cM","x":63,"S":0.238,"L":0.238,"P":0.238,"R":0.238,"K":0.238},
{"p":"cM","x":65,"S":0.264,"L":0.264,"P":0.264,"R":0.264,"K":0.264},
{"p":"cM","x":67,"S":0.248,"L":0.248,"P":0.248,"R":0.248,"K":0.248},
{"p":"cM","x":70,"S":0.254,"L":0.254,"P":0.254,"R":0.254,"K":0.254},
{"p":"cM","x":75,"S":0.269,"L":0.269,"P":0.269,"R":0.269,"K":0.269},
{"p":"cM","x":77,"S":0.3,"L":0.3,"P":0.3,"R":0.3,"K":0.3},
{"p":"cM","x":79,"S":0.29,"L":0.29,"P":0.29,"R":0.29,"K":0.29},
{"p":"cM","x":85,"S":0.32,"L":0.32,"P":0.32,"R":0.32,"K":0.32},
{"p":"cM","x":90,"S":0.356,"L":0.356,"P":0.356,"R":0.356,"K":0.356},
{"p":"sM","x":10,"S":0.207,"L":0.207,"P":0.207,"R":0.207,"K":0.207},
{"p":"sM","x":15,"S":0.205,"L":0.205,"P":0.205,"R":0.205,"K":0.205},
{"p":"sM","x":20,"S":0.205,"L":0.205,"P":0.205,"R":0.205,"K":0.205},
{"p":"sM","x":25,"S":0.205,"L":0.205,"P":0.205,"R":0.205,"K":0.205},
{"p":"sM","x":30,"S":0.204,"L":0.204,"P":0.204,"R":0.204,"K":0.204},
{"p":"sM","x":35,"S":0.208,"L":0.208,"P":0.208,"R":0.208,"K":0.208},
{"p":"sM","x":40,"S":0.21,"L":0.21,"P":0.21,"R":0.21,"K":0.21},
{"p":"sM","x":45,"S":0.212,"L":0.212,"P":0.212,"R":0.212,"K":0.212},
{"p":"sM","x":48,"S":0.208,"L":0.208,"P":0.208,"R":0.208,"K":0.208},
{"p":"sM","x":50,"S":0.236,"L":0.236,"P":0.236,"R":0.236,"K":0.236},
{"p":"sM","x":52,"S":0.215,"L":0.215,"P":0.215,"R":0.215,"K":0.215},
{"p":"sM","x":55,"S":0.218,"L":0.218,"P":0.218,"R":0.218,"K":0.218},
{"p":"sM","x":60,"S":0.227,"L":0.227,"P":0.227,"R":0.227,"K":0.227},
{"p":"sM","x":63,"S":0.233,"L":0.233,"P":0.233,"R":0.233,"K":0.233},
{"p":"sM","x":65,"S":0.258,"L":0.258,"P":0.258,"R":0.258,"K":0.258},
{"p":"sM","x":67,"S":0.248,"L":0.248,"P":0.248,"R":0.248,"K":0.248},
{"p":"sM","x":70,"S":0.254,"L":0.254,"P":0.254,"R":0.254,"K":0.254},
{"p":"sM","x":75,"S":0.267,"L":0.267,"P":0.267,"R":0.267,"K":0.267},
{"p":"sM","x":77,"S":0.292,"L":0.292,"P":0.292,"R":0.292,"K":0.292},
{"p":"sM","x":79,"S":0.287,"L":0.287,"P":0.287,"R":0.287,"K":0.287},
{"p":"sM","x":85,"S":0.316,"L":0.316,"P":0.316,"R":0.316,"K":0.316},
{"p":"sM","x":90,"S":0.349,"L":0.349,"P":0.349,"R":0.349,"K":0.349},
{"p":"hM","x":10,"S":0.222,"L":0.209,"P":0.211,"R":0.213,"K":0.212},
{"p":"hM","x":15,"S":0.228,"L":0.211,"P":0.212,"R":0.214,"K":0.213},
{"p":"hM","x":20,"S":0.23,"L":0.212,"P":0.213,"R":0.215,"K":0.214},
{"p":"hM","x":25,"S":0.235,"L":0.213,"P":0.214,"R":0.215,"K":0.214},
{"p":"hM","x":30,"S":0.24,"L":0.214,"P":0.215,"R":0.216,"K":0.215},
{"p":"hM","x":35,"S":0.244,"L":0.215,"P":0.216,"R":0.217,"K":0.216},
{"p":"hM","x":40,"S":0.251,"L":0.219,"P":0.22,"R":0.221,"K":0.22},
{"p":"hM","x":42,"S":0.258,"L":0.222,"P":0.222,"R":0.224,"K":0.223},
{"p":"hM","x":44,"S":0.248,"L":0.215,"P":0.216,"R":0.217,"K":0.216},
{"p":"hM","x":46,"S":0.254,"L":0.217,"P":0.218,"R":0.219,"K":0.218},
{"p":"hM","x":50,"S":0.258,"L":0.222,"P":0.222,"R":0.224,"K":0.223},
{"p":"hM","x":55,"S":0.267,"L":0.227,"P":0.227,"R":0.229,"K":0.228},
{"p":"hM","x":60,"S":0.273,"L":0.234,"P":0.234,"R":0.236,"K":0.235},
{"p":"hM","x":65,"S":0.279,"L":0.243,"P":0.243,"R":0.245,"K":0.244},
{"p":"hM","x":70,"S":0.287,"L":0.257,"P":0.256,"R":0.259,"K":0.258},
{"p":"hM","x":75,"S":0.3,"L":0.273,"P":0.272,"R":0.275,"K":0.274},
{"p":"hM","x":80,"S":0.316,"L":0.289,"P":0.288,"R":0.291,"K":0.29},
{"p":"hM","x":85,"S":0.339,"L":0.309,"P":0.308,"R":0.311,"K":0.31},
{"p":"hM","x":90,"S":0.362,"L":0.337,"P":0.336,"R":0.339,"K":0.338},
{"p":"lM","x":10,"S":0.222,"L":0.21,"P":0.215,"R":0.214,"K":0.214},
{"p":"lM","x":12,"S":0.224,"L":0.217,"P":0.221,"R":0.22,"K":0.22},
{"p":"lM","x":14,"S":0.226,"L":0.21,"P":0.213,"R":0.212,"K":0.212},
{"p":"lM","x":20,"S":0.228,"L":0.208,"P":0.211,"R":0.21,"K":0.21},
{"p":"lM","x":25,"S":0.229,"L":0.207,"P":0.209,"R":0.208,"K":0.208},
{"p":"lM","x":30,"S":0.233,"L":0.206,"P":0.208,"R":0.207,"K":0.207},
{"p":"lM","x":35,"S":0.238,"L":0.211,"P":0.212,"R":0.212,"K":0.212},
{"p":"lM","x":40,"S":0.246,"L":0.211,"P":0.212,"R":0.212,"K":0.212},
{"p":"lM","x":44,"S":0.241,"L":0.213,"P":0.214,"R":0.214,"K":0.214},
{"p":"lM","x":48,"S":0.243,"L":0.207,"P":0.208,"R":0.208,"K":0.208},
{"p":"lM","x":50,"S":0.244,"L":0.221,"P":0.222,"R":0.222,"K":0.222},
{"p":"lM","x":52,"S":0.251,"L":0.213,"P":0.214,"R":0.214,"K":0.214},
{"p":"lM","x":55,"S":0.254,"L":0.224,"P":0.224,"R":0.225,"K":0.225},
{"p":"lM","x":60,"S":0.262,"L":0.227,"P":0.227,"R":0.228,"K":0.228},
{"p":"lM","x":65,"S":0.271,"L":0.24,"P":0.24,"R":0.241,"K":0.241},
{"p":"lM","x":70,"S":0.28,"L":0.25,"P":0.249,"R":0.251,"K":0.251},
{"p":"lM","x":75,"S":0.297,"L":0.266,"P":0.265,"R":0.267,"K":0.267},
{"p":"lM","x":80,"S":0.313,"L":0.286,"P":0.285,"R":0.287,"K":0.287},
{"p":"lM","x":85,"S":0.333,"L":0.306,"P":0.305,"R":0.307,"K":0.307},
{"p":"lM","x":90,"S":0.358,"L":0.332,"P":0.331,"R":0.333,"K":0.333},
{"p":"nM","x":10,"S":0.22,"L":0.212,"P":0.217,"R":0.216,"K":0.216},
{"p":"nM","x":12,"S":0.221,"L":0.211,"P":0.215,"R":0.214,"K":0.214},
{"p":"nM","x":13,"S":0.221,"L":0.216,"P":0.219,"R":0.218,"K":0.218},
{"p":"nM","x":15,"S":0.222,"L":0.207,"P":0.209,"R":0.208,"K":0.208},
{"p":"nM","x":20,"S":0.223,"L":0.206,"P":0.208,"R":0.207,"K":0.207},
{"p":"nM","x":25,"S":0.228,"L":0.205,"P":0.206,"R":0.205,"K":0.205},
{"p":"nM","x":30,"S":0.23,"L":0.206,"P":0.207,"R":0.207,"K":0.207},
{"p":"nM","x":35,"S":0.233,"L":0.207,"P":0.208,"R":0.208,"K":0.208},
{"p":"nM","x":40,"S":0.24,"L":0.209,"P":0.21,"R":0.21,"K":0.21},
{"p":"nM","x":42,"S":0.244,"L":0.21,"P":0.211,"R":0.211,"K":0.211},
{"p":"nM","x":45,"S":0.238,"L":0.211,"P":0.212,"R":0.212,"K":0.212},
{"p":"nM","x":50,"S":0.244,"L":0.213,"P":0.214,"R":0.214,"K":0.214},
{"p":"nM","x":55,"S":0.251,"L":0.217,"P":0.218,"R":0.218,"K":0.218},
{"p":"nM","x":60,"S":0.261,"L":0.227,"P":0.227,"R":0.228,"K":0.228},
{"p":"nM","x":65,"S":0.271,"L":0.234,"P":0.234,"R":0.235,"K":0.235},
{"p":"nM","x":70,"S":0.28,"L":0.247,"P":0.247,"R":0.248,"K":0.248},
{"p":"nM","x":75,"S":0.293,"L":0.263,"P":0.263,"R":0.264,"K":0.264},
{"p":"nM","x":80,"S":0.313,"L":0.281,"P":0.281,"R":0.282,"K":0.282},
{"p":"nM","x":85,"S":0.333,"L":0.306,"P":0.305,"R":0.307,"K":0.307},
{"p":"nM","x":90,"S":0.356,"L":0.338,"P":0.337,"R":0.339,"K":0.339},
{"p":"cA","x":10,"S":0.197,"L":0.197,"P":0.197,"R":0.197,"K":0.197},
{"p":"cA","x":20,"S":0.208,"L":0.208,"P":0.208,"R":0.208,"K":0.208},
{"p":"cA","x":30,"S":0.219,"L":0.219,"P":0.219,"R":0.219,"K":0.219},
{"p":"cA","x":34,"S":0.224,"L":0.224,"P":0.224,"R":0.224,"K":0.224},
{"p":"cA","x":36,"S":0.23,"L":0.23,"P":0.23,"R":0.23,"K":0.23},
{"p":"cA","x":38,"S":0.217,"L":0.217,"P":0.217,"R":0.217,"K":0.217},
{"p":"cA","x":45,"S":0.229,"L":0.229,"P":0.229,"R":0.229,"K":0.229},
{"p":"cA","x":50,"S":0.233,"L":0.233,"P":0.233,"R":0.233,"K":0.233},
{"p":"cA","x":55,"S":0.242,"L":0.242,"P":0.242,"R":0.242,"K":0.242},
{"p":"cA","x":60,"S":0.254,"L":0.254,"P":0.254,"R":0.254,"K":0.254},
{"p":"cA","x":63,"S":0.259,"L":0.259,"P":0.259,"R":0.259,"K":0.259},
{"p":"cA","x":65,"S":0.27,"L":0.27,"P":0.27,"R":0.27,"K":0.27},
{"p":"cA","x":70,"S":0.28,"L":0.28,"P":0.28,"R":0.28,"K":0.28},
{"p":"cA","x":75,"S":0.297,"L":0.297,"P":0.297,"R":0.297,"K":0.297},
{"p":"cA","x":80,"S":0.322,"L":0.322,"P":0.322,"R":0.322,"K":0.322},
{"p":"cA","x":85,"S":0.354,"L":0.354,"P":0.354,"R":0.354,"K":0.354},
{"p":"cA","x":90,"S":0.414,"L":0.414,"P":0.414,"R":0.414,"K":0.414},
{"p":"sA","x":10,"S":0.198,"L":0.198,"P":0.198,"R":0.198,"K":0.198},
{"p":"sA","x":20,"S":0.208,"L":0.208,"P":0.208,"R":0.208,"K":0.208},
{"p":"sA","x":30,"S":0.218,"L":0.218,"P":0.218,"R":0.218,"K":0.218},
{"p":"sA","x":34,"S":0.225,"L":0.225,"P":0.225,"R":0.225,"K":0.225},
{"p":"sA","x":36,"S":0.231,"L":0.231,"P":0.231,"R":0.231,"K":0.231},
{"p":"sA","x":38,"S":0.217,"L":0.217,"P":0.217,"R":0.217,"K":0.217},
{"p":"sA","x":45,"S":0.225,"L":0.225,"P":0.225,"R":0.225,"K":0.225},
{"p":"sA","x":50,"S":0.234,"L":0.234,"P":0.234,"R":0.234,"K":0.234},
{"p":"sA","x":55,"S":0.242,"L":0.242,"P":0.242,"R":0.242,"K":0.242},
{"p":"sA","x":60,"S":0.251,"L":0.251,"P":0.251,"R":0.251,"K":0.251},
{"p":"sA","x":65,"S":0.262,"L":0.262,"P":0.262,"R":0.262,"K":0.262},
{"p":"sA","x":70,"S":0.274,"L":0.274,"P":0.274,"R":0.274,"K":0.274},
{"p":"sA","x":75,"S":0.295,"L":0.295,"P":0.295,"R":0.295,"K":0.295},
{"p":"sA","x":80,"S":0.32,"L":0.32,"P":0.32,"R":0.32,"K":0.32},
{"p":"sA","x":85,"S":0.354,"L":0.354,"P":0.354,"R":0.354,"K":0.354},
{"p":"sA","x":90,"S":0.411,"L":0.411,"P":0.411,"R":0.411,"K":0.411},
{"p":"hA","x":10,"S":0.297,"L":0.197,"P":0.2,"R":0.197,"K":0.199},
{"p":"hA","x":12,"S":0.32,"L":0.199,"P":0.202,"R":0.199,"K":0.201},
{"p":"hA","x":14,"S":0.326,"L":0.201,"P":0.204,"R":0.201,"K":0.203},
{"p":"hA","x":16,"S":0.337,"L":0.203,"P":0.206,"R":0.203,"K":0.205},
{"p":"hA","x":20,"S":0.345,"L":0.208,"P":0.21,"R":0.208,"K":0.209},
{"p":"hA","x":25,"S":0.354,"L":0.215,"P":0.216,"R":0.215,"K":0.215},
{"p":"hA","x":30,"S":0.368,"L":0.222,"P":0.222,"R":0.223,"K":0.222},
{"p":"hA","x":33,"S":0.375,"L":0.228,"P":0.227,"R":0.229,"K":0.227},
{"p":"hA","x":36,"S":0.38,"L":0.233,"P":0.232,"R":0.234,"K":0.232},
{"p":"hA","x":39,"S":0.366,"L":0.222,"P":0.221,"R":0.223,"K":0.221},
{"p":"hA","x":45,"S":0.377,"L":0.228,"P":0.226,"R":0.229,"K":0.226},
{"p":"hA","x":50,"S":0.383,"L":0.233,"P":0.229,"R":0.234,"K":0.23},
{"p":"hA","x":55,"S":0.386,"L":0.24,"P":0.235,"R":0.242,"K":0.237},
{"p":"hA","x":60,"S":0.398,"L":0.248,"P":0.242,"R":0.251,"K":0.245},
{"p":"hA","x":65,"S":0.402,"L":0.259,"P":0.251,"R":0.263,"K":0.254},
{"p":"hA","x":70,"S":0.414,"L":0.274,"P":0.261,"R":0.28,"K":0.265},
{"p":"hA","x":75,"S":0.423,"L":0.292,"P":0.277,"R":0.297,"K":0.283},
{"p":"hA","x":80,"S":0.432,"L":0.314,"P":0.297,"R":0.32,"K":0.303},
{"p":"hA","x":85,"S":0.44,"L":0.332,"P":0.32,"R":0.337,"K":0.325},
{"p":"hA","x":90,"S":0.463,"L":0.371,"P":0.36,"R":0.383,"K":0.368},
{"p":"lA","x":10,"S":0.309,"L":0.199,"P":0.206,"R":0.197,"K":0.201},
{"p":"lA","x":15,"S":0.32,"L":0.206,"P":0.211,"R":0.204,"K":0.207},
{"p":"lA","x":20,"S":0.334,"L":0.213,"P":0.217,"R":0.211,"K":0.214},
{"p":"lA","x":25,"S":0.343,"L":0.218,"P":0.22,"R":0.217,"K":0.219},
{"p":"lA","x":30,"S":0.36,"L":0.223,"P":0.224,"R":0.223,"K":0.224},
{"p":"lA","x":33,"S":0.366,"L":0.227,"P":0.228,"R":0.227,"K":0.227},
{"p":"lA","x":36,"S":0.379,"L":0.231,"P":0.231,"R":0.231,"K":0.231},
{"p":"lA","x":39,"S":0.368,"L":0.219,"P":0.219,"R":0.219,"K":0.219},
{"p":"lA","x":45,"S":0.375,"L":0.223,"P":0.222,"R":0.223,"K":0.222},
{"p":"lA","x":50,"S":0.383,"L":0.23,"P":0.228,"R":0.231,"K":0.229},
{"p":"lA","x":55,"S":0.389,"L":0.237,"P":0.234,"R":0.238,"K":0.235},
{"p":"lA","x":60,"S":0.398,"L":0.244,"P":0.24,"R":0.246,"K":0.242},
{"p":"lA","x":65,"S":0.406,"L":0.254,"P":0.249,"R":0.257,"K":0.251},
{"p":"lA","x":70,"S":0.414,"L":0.265,"P":0.259,"R":0.269,"K":0.262},
{"p":"lA","x":75,"S":0.423,"L":0.281,"P":0.273,"R":0.286,"K":0.277},
{"p":"lA","x":80,"S":0.434,"L":0.303,"P":0.293,"R":0.309,"K":0.298},
{"p":"lA","x":85,"S":0.446,"L":0.33,"P":0.318,"R":0.337,"K":0.324},
{"p":"lA","x":90,"S":0.463,"L":0.37,"P":0.354,"R":0.377,"K":0.362},
{"p":"nA","x":10,"S":0.306,"L":0.199,"P":0.208,"R":0.197,"K":0.202},
{"p":"nA","x":15,"S":0.326,"L":0.206,"P":0.212,"R":0.204,"K":0.208},
{"p":"nA","x":18,"S":0.337,"L":0.21,"P":0.215,"R":0.208,"K":0.211},
{"p":"nA","x":20,"S":0.343,"L":0.213,"P":0.217,"R":0.211,"K":0.214},
{"p":"nA","x":22,"S":0.334,"L":0.214,"P":0.218,"R":0.213,"K":0.215},
{"p":"nA","x":24,"S":0.36,"L":0.216,"P":0.219,"R":0.215,"K":0.217},
{"p":"nA","x":30,"S":0.371,"L":0.225,"P":0.226,"R":0.224,"K":0.225},
{"p":"nA","x":36,"S":0.389,"L":0.231,"P":0.231,"R":0.231,"K":0.231},
{"p":"nA","x":38,"S":0.371,"L":0.219,"P":0.219,"R":0.219,"K":0.219},
{"p":"nA","x":45,"S":0.377,"L":0.224,"P":0.222,"R":0.224,"K":0.223},
{"p":"nA","x":50,"S":0.383,"L":0.23,"P":0.228,"R":0.231,"K":0.229},
{"p":"nA","x":55,"S":0.389,"L":0.237,"P":0.234,"R":0.238,"K":0.235},
{"p":"nA","x":60,"S":0.402,"L":0.244,"P":0.24,"R":0.246,"K":0.242},
{"p":"nA","x":65,"S":0.417,"L":0.254,"P":0.249,"R":0.257,"K":0.251},
{"p":"nA","x":70,"S":0.425,"L":0.269,"P":0.262,"R":0.274,"K":0.265},
{"p":"nA","x":75,"S":0.434,"L":0.285,"P":0.276,"R":0.291,"K":0.281},
{"p":"nA","x":80,"S":0.446,"L":0.307,"P":0.296,"R":0.314,"K":0.301},
{"p":"nA","x":85,"S":0.455,"L":0.335,"P":0.322,"R":0.343,"K":0.329},
{"p":"nA","x":90,"S":0.469,"L":0.38,"P":0.368,"R":0.389,"K":0.374},
{"p":"cU","x":10,"S":0.121,"L":0.121,"P":0.121,"R":0.121,"K":0.121},
{"p":"cU","x":15,"S":0.114,"L":0.114,"P":0.114,"R":0.114,"K":0.114},
{"p":"cU","x":20,"S":0.114,"L":0.114,"P":0.114,"R":0.114,"K":0.114},
{"p":"cU","x":25,"S":0.114,"L":0.114,"P":0.114,"R":0.114,"K":0.114},
{"p":"cU","x":28,"S":0.121,"L":0.121,"P":0.121,"R":0.121,"K":0.121},
{"p":"cU","x":30,"S":0.119,"L":0.119,"P":0.119,"R":0.119,"K":0.119},
{"p":"cU","x":32,"S":0.11,"L":0.11,"P":0.11,"R":0.11,"K":0.11},
{"p":"cU","x":40,"S":0.114,"L":0.114,"P":0.114,"R":0.114,"K":0.114},
{"p":"cU","x":48,"S":0.121,"L":0.121,"P":0.121,"R":0.121,"K":0.121},
{"p":"cU","x":50,"S":0.197,"L":0.197,"P":0.197,"R":0.197,"K":0.197},
{"p":"cU","x":52,"S":0.124,"L":0.124,"P":0.124,"R":0.124,"K":0.124},
{"p":"cU","x":56,"S":0.126,"L":0.126,"P":0.126,"R":0.126,"K":0.126},
{"p":"cU","x":58,"S":0.218,"L":0.218,"P":0.218,"R":0.218,"K":0.218},
{"p":"cU","x":60,"S":0.132,"L":0.132,"P":0.132,"R":0.132,"K":0.132},
{"p":"cU","x":65,"S":0.135,"L":0.135,"P":0.135,"R":0.135,"K":0.135},
{"p":"cU","x":70,"S":0.138,"L":0.138,"P":0.138,"R":0.138,"K":0.138},
{"p":"cU","x":72,"S":0.149,"L":0.149,"P":0.149,"R":0.149,"K":0.149},
{"p":"cU","x":74,"S":0.146,"L":0.146,"P":0.146,"R":0.146,"K":0.146},
{"p":"cU","x":76,"S":0.218,"L":0.218,"P":0.218,"R":0.218,"K":0.218},
{"p":"cU","x":78,"S":0.156,"L":0.156,"P":0.156,"R":0.156,"K":0.156},
{"p":"cU","x":80,"S":0.225,"L":0.225,"P":0.225,"R":0.225,"K":0.225},
{"p":"cU","x":82,"S":0.163,"L":0.163,"P":0.163,"R":0.163,"K":0.163},
{"p":"cU","x":84,"S":0.17,"L":0.17,"P":0.17,"R":0.17,"K":0.17},
{"p":"cU","x":86,"S":0.174,"L":0.174,"P":0.174,"R":0.174,"K":0.174},
{"p":"cU","x":88,"S":0.177,"L":0.177,"P":0.177,"R":0.177,"K":0.177},
{"p":"cU","x":90,"S":0.452,"L":0.452,"P":0.452,"R":0.452,"K":0.452},
{"p":"sU","x":10,"S":0.119,"L":0.119,"P":0.119,"R":0.119,"K":0.119},
{"p":"sU","x":15,"S":0.114,"L":0.114,"P":0.114,"R":0.114,"K":0.114},
{"p":"sU","x":20,"S":0.11,"L":0.11,"P":0.11,"R":0.11,"K":0.11},
{"p":"sU","x":30,"S":0.114,"L":0.114,"P":0.114,"R":0.114,"K":0.114},
{"p":"sU","x":32,"S":0.108,"L":0.108,"P":0.108,"R":0.108,"K":0.108},
{"p":"sU","x":40,"S":0.108,"L":0.108,"P":0.108,"R":0.108,"K":0.108},
{"p":"sU","x":48,"S":0.112,"L":0.112,"P":0.112,"R":0.112,"K":0.112},
{"p":"sU","x":50,"S":0.17,"L":0.17,"P":0.17,"R":0.17,"K":0.17},
{"p":"sU","x":52,"S":0.114,"L":0.114,"P":0.114,"R":0.114,"K":0.114},
{"p":"sU","x":56,"S":0.115,"L":0.115,"P":0.115,"R":0.115,"K":0.115},
{"p":"sU","x":58,"S":0.204,"L":0.204,"P":0.204,"R":0.204,"K":0.204},
{"p":"sU","x":60,"S":0.121,"L":0.121,"P":0.121,"R":0.121,"K":0.121},
{"p":"sU","x":65,"S":0.124,"L":0.124,"P":0.124,"R":0.124,"K":0.124},
{"p":"sU","x":70,"S":0.128,"L":0.128,"P":0.128,"R":0.128,"K":0.128},
{"p":"sU","x":74,"S":0.135,"L":0.135,"P":0.135,"R":0.135,"K":0.135},
{"p":"sU","x":76,"S":0.204,"L":0.204,"P":0.204,"R":0.204,"K":0.204},
{"p":"sU","x":78,"S":0.142,"L":0.142,"P":0.142,"R":0.142,"K":0.142},
{"p":"sU","x":80,"S":0.193,"L":0.193,"P":0.193,"R":0.193,"K":0.193},
{"p":"sU","x":82,"S":0.149,"L":0.149,"P":0.149,"R":0.149,"K":0.149},
{"p":"sU","x":84,"S":0.156,"L":0.156,"P":0.156,"R":0.156,"K":0.156},
{"p":"sU","x":88,"S":0.163,"L":0.163,"P":0.163,"R":0.163,"K":0.163},
{"p":"sU","x":90,"S":0.452,"L":0.452,"P":0.452,"R":0.452,"K":0.452},
{"p":"hU","x":10,"S":0.331,"L":0.179,"P":0.142,"R":0.167,"K":0.146},
{"p":"hU","x":15,"S":0.331,"L":0.176,"P":0.135,"R":0.165,"K":0.136},
{"p":"hU","x":20,"S":0.331,"L":0.174,"P":0.132,"R":0.163,"K":0.131},
{"p":"hU","x":25,"S":0.333,"L":0.175,"P":0.132,"R":0.164,"K":0.13},
{"p":"hU","x":30,"S":0.339,"L":0.177,"P":0.132,"R":0.166,"K":0.129},
{"p":"hU","x":32,"S":0.331,"L":0.17,"P":0.126,"R":0.16,"K":0.127},
{"p":"hU","x":35,"S":0.332,"L":0.171,"P":0.127,"R":0.16,"K":0.127},
{"p":"hU","x":40,"S":0.335,"L":0.172,"P":0.128,"R":0.16,"K":0.127},
{"p":"hU","x":45,"S":0.339,"L":0.175,"P":0.13,"R":0.163,"K":0.129},
{"p":"hU","x":50,"S":0.342,"L":0.179,"P":0.132,"R":0.167,"K":0.132},
{"p":"hU","x":55,"S":0.349,"L":0.184,"P":0.138,"R":0.171,"K":0.135},
{"p":"hU","x":60,"S":0.353,"L":0.19,"P":0.146,"R":0.177,"K":0.138},
{"p":"hU","x":65,"S":0.359,"L":0.196,"P":0.154,"R":0.183,"K":0.143},
{"p":"hU","x":70,"S":0.363,"L":0.204,"P":0.163,"R":0.19,"K":0.149},
{"p":"hU","x":75,"S":0.367,"L":0.212,"P":0.175,"R":0.2,"K":0.157},
{"p":"hU","x":80,"S":0.37,"L":0.221,"P":0.188,"R":0.211,"K":0.166},
{"p":"hU","x":85,"S":0.377,"L":0.234,"P":0.204,"R":0.225,"K":0.183},
{"p":"hU","x":90,"S":0.386,"L":0.257,"P":0.229,"R":0.246,"K":0.207},
{"p":"lU","x":10,"S":0.326,"L":0.167,"P":0.124,"R":0.159,"K":0.135},
{"p":"lU","x":15,"S":0.328,"L":0.166,"P":0.121,"R":0.157,"K":0.126},
{"p":"lU","x":20,"S":0.326,"L":0.165,"P":0.119,"R":0.156,"K":0.121},
{"p":"lU","x":25,"S":0.328,"L":0.165,"P":0.119,"R":0.156,"K":0.12},
{"p":"lU","x":30,"S":0.328,"L":0.166,"P":0.119,"R":0.156,"K":0.119},
{"p":"lU","x":32,"S":0.326,"L":0.16,"P":0.112,"R":0.152,"K":0.119},
{"p":"lU","x":35,"S":0.326,"L":0.161,"P":0.113,"R":0.152,"K":0.119},
{"p":"lU","x":40,"S":0.328,"L":0.163,"P":0.114,"R":0.152,"K":0.119},
{"p":"lU","x":45,"S":0.331,"L":0.166,"P":0.116,"R":0.155,"K":0.12},
{"p":"lU","x":50,"S":0.335,"L":0.17,"P":0.119,"R":0.159,"K":0.121},
{"p":"lU","x":55,"S":0.338,"L":0.174,"P":0.123,"R":0.162,"K":0.124},
{"p":"lU","x":60,"S":0.342,"L":0.179,"P":0.128,"R":0.166,"K":0.128},
{"p":"lU","x":65,"S":0.345,"L":0.184,"P":0.134,"R":0.172,"K":0.133},
{"p":"lU","x":70,"S":0.349,"L":0.19,"P":0.142,"R":0.179,"K":0.138},
{"p":"lU","x":75,"S":0.354,"L":0.197,"P":0.152,"R":0.186,"K":0.146},
{"p":"lU","x":80,"S":0.359,"L":0.204,"P":0.163,"R":0.193,"K":0.156},
{"p":"lU","x":85,"S":0.363,"L":0.215,"P":0.177,"R":0.207,"K":0.166},
{"p":"lU","x":90,"S":0.377,"L":0.239,"P":0.204,"R":0.225,"K":0.188},
{"p":"nU","x":10,"S":0.328,"L":0.17,"P":0.124,"R":0.16,"K":0.135},
{"p":"nU","x":15,"S":0.328,"L":0.169,"P":0.121,"R":0.159,"K":0.126},
{"p":"nU","x":20,"S":0.328,"L":0.168,"P":0.12,"R":0.158,"K":0.121},
{"p":"nU","x":25,"S":0.33,"L":0.169,"P":0.12,"R":0.158,"K":0.12},
{"p":"nU","x":30,"S":0.332,"L":0.17,"P":0.12,"R":0.159,"K":0.12},
{"p":"nU","x":32,"S":0.326,"L":0.163,"P":0.113,"R":0.152,"K":0.12},
{"p":"nU","x":35,"S":0.327,"L":0.164,"P":0.114,"R":0.153,"K":0.119},
{"p":"nU","x":40,"S":0.328,"L":0.166,"P":0.117,"R":0.155,"K":0.119},
{"p":"nU","x":45,"S":0.331,"L":0.17,"P":0.119,"R":0.157,"K":0.12},
{"p":"nU","x":50,"S":0.335,"L":0.174,"P":0.121,"R":0.16,"K":0.121},
{"p":"nU","x":55,"S":0.338,"L":0.178,"P":0.124,"R":0.165,"K":0.124},
{"p":"nU","x":60,"S":0.342,"L":0.183,"P":0.128,"R":0.17,"K":0.128},
{"p":"nU","x":65,"S":0.345,"L":0.19,"P":0.134,"R":0.174,"K":0.133},
{"p":"nU","x":70,"S":0.349,"L":0.197,"P":0.142,"R":0.179,"K":0.138},
{"p":"nU","x":75,"S":0.354,"L":0.204,"P":0.152,"R":0.188,"K":0.146},
{"p":"nU","x":80,"S":0.359,"L":0.211,"P":0.163,"R":0.197,"K":0.156},
{"p":"nU","x":85,"S":0.367,"L":0.225,"P":0.179,"R":0.211,"K":0.17},
{"p":"nU","x":90,"S":0.372,"L":0.239,"P":0.204,"R":0.229,"K":0.188}
]},
"transform":[
{"lookup":"p","from":{"data":{"name":"pn"},"key":"p","fields":["m","d","e"]}},
{"fold":["S","L","P","R","K"],"as":["s","y"]}
],
"resolve":{"scale":{"y":"independent"}},
"spacing":3.4,
"vconcat":[
{"transform":[{"filter":"datum.d=='WHAS500'"}],
"facet":{"column":{"field":"m","type":"nominal","sort":["Cox PH","DeepSurv","DeepHit","Logistic Hazard","N-MTLR"],"title":null,"header":{"labelFontSize":17.5,"labelPadding":8}}},
"spacing":8,
"spec":{"width":196,"height":94,"layer":[
{"mark":{"type":"errorband","opacity":0.2,"clip":true},"encoding":{"x":{"field":"x","type":"quantitative","scale":{"domain":[10,90],"nice":false},"axis":{"values":[20,40,60,80],"labels":false,"title":null}},"y":{"field":"y","type":"quantitative","scale":{"domain":[0.131,0.312],"nice":false,"zero":false},"axis":{"values":[0.2,0.3],"format":".2f","title":["WHAS500","IBS"]}},"yError":{"field":"e"},"color":{"field":"s","type":"nominal","scale":{"domain":["S","L","P","R","K"],"range":["#1f77b4","#ff7f0e","#2ca02c","#d62728","#9467bd"]}}}},
{"mark":{"type":"line","strokeWidth":1.6,"clip":true},"encoding":{"x":{"field":"x","type":"quantitative","scale":{"domain":[10,90],"nice":false},"axis":{"values":[20,40,60,80],"labels":false,"title":null}},"y":{"field":"y","type":"quantitative","scale":{"domain":[0.131,0.312],"nice":false,"zero":false},"axis":{"values":[0.2,0.3],"format":".2f","title":["WHAS500","IBS"]}},"color":{"field":"s","type":"nominal","scale":{"domain":["S","L","P","R","K"],"range":["#1f77b4","#ff7f0e","#2ca02c","#d62728","#9467bd"]}}}}
]}},
{"transform":[{"filter":"datum.d=='GBSG2'"}],
"facet":{"column":{"field":"m","type":"nominal","sort":["Cox PH","DeepSurv","DeepHit","Logistic Hazard","N-MTLR"],"title":null,"header":{"labels":false}}},
"spacing":8,
"spec":{"width":196,"height":94,"layer":[
{"mark":{"type":"errorband","opacity":0.2,"clip":true},"encoding":{"x":{"field":"x","type":"quantitative","scale":{"domain":[10,90],"nice":false},"axis":{"values":[20,40,60,80],"labels":false,"title":null}},"y":{"field":"y","type":"quantitative","scale":{"domain":[0.179,0.331],"nice":false,"zero":false},"axis":{"values":[0.2,0.3],"format":".2f","title":["GBSG2","IBS"]}},"yError":{"field":"e"},"color":{"field":"s","type":"nominal","scale":{"domain":["S","L","P","R","K"],"range":["#1f77b4","#ff7f0e","#2ca02c","#d62728","#9467bd"]}}}},
{"mark":{"type":"line","strokeWidth":1.6,"clip":true},"encoding":{"x":{"field":"x","type":"quantitative","scale":{"domain":[10,90],"nice":false},"axis":{"values":[20,40,60,80],"labels":false,"title":null}},"y":{"field":"y","type":"quantitative","scale":{"domain":[0.179,0.331],"nice":false,"zero":false},"axis":{"values":[0.2,0.3],"format":".2f","title":["GBSG2","IBS"]}},"color":{"field":"s","type":"nominal","scale":{"domain":["S","L","P","R","K"],"range":["#1f77b4","#ff7f0e","#2ca02c","#d62728","#9467bd"]}}}}
]}},
{"transform":[{"filter":"datum.d=='TCGA-BRCA'"}],
"facet":{"column":{"field":"m","type":"nominal","sort":["Cox PH","DeepSurv","DeepHit","Logistic Hazard","N-MTLR"],"title":null,"header":{"labels":false}}},
"spacing":8,
"spec":{"width":196,"height":94,"layer":[
{"mark":{"type":"errorband","opacity":0.2,"clip":true},"encoding":{"x":{"field":"x","type":"quantitative","scale":{"domain":[10,90],"nice":false},"axis":{"values":[20,40,60,80],"labels":false,"title":null}},"y":{"field":"y","type":"quantitative","scale":{"domain":[0.068,0.13],"nice":false,"zero":false},"axis":{"values":[0.08,0.1,0.12],"format":".2f","title":["TCGA-BRCA","IBS"]}},"yError":{"field":"e"},"color":{"field":"s","type":"nominal","scale":{"domain":["S","L","P","R","K"],"range":["#1f77b4","#ff7f0e","#2ca02c","#d62728","#9467bd"]}}}},
{"mark":{"type":"line","strokeWidth":1.6,"clip":true},"encoding":{"x":{"field":"x","type":"quantitative","scale":{"domain":[10,90],"nice":false},"axis":{"values":[20,40,60,80],"labels":false,"title":null}},"y":{"field":"y","type":"quantitative","scale":{"domain":[0.068,0.13],"nice":false,"zero":false},"axis":{"values":[0.08,0.1,0.12],"format":".2f","title":["TCGA-BRCA","IBS"]}},"color":{"field":"s","type":"nominal","scale":{"domain":["S","L","P","R","K"],"range":["#1f77b4","#ff7f0e","#2ca02c","#d62728","#9467bd"]}}}}
]}},
{"transform":[{"filter":"datum.d=='METABRIC'"}],
"facet":{"column":{"field":"m","type":"nominal","sort":["Cox PH","DeepSurv","DeepHit","Logistic Hazard","N-MTLR"],"title":null,"header":{"labels":false}}},
"spacing":8,
"spec":{"width":196,"height":94,"layer":[
{"mark":{"type":"errorband","opacity":0.2,"clip":true},"encoding":{"x":{"field":"x","type":"quantitative","scale":{"domain":[10,90],"nice":false},"axis":{"values":[20,40,60,80],"labels":false,"title":null}},"y":{"field":"y","type":"quantitative","scale":{"domain":[0.192,0.375],"nice":false,"zero":false},"axis":{"values":[0.2,0.3],"format":".2f","title":["METABRIC","IBS"]}},"yError":{"field":"e"},"color":{"field":"s","type":"nominal","scale":{"domain":["S","L","P","R","K"],"range":["#1f77b4","#ff7f0e","#2ca02c","#d62728","#9467bd"]}}}},
{"mark":{"type":"line","strokeWidth":1.6,"clip":true},"encoding":{"x":{"field":"x","type":"quantitative","scale":{"domain":[10,90],"nice":false},"axis":{"values":[20,40,60,80],"labels":false,"title":null}},"y":{"field":"y","type":"quantitative","scale":{"domain":[0.192,0.375],"nice":false,"zero":false},"axis":{"values":[0.2,0.3],"format":".2f","title":["METABRIC","IBS"]}},"color":{"field":"s","type":"nominal","scale":{"domain":["S","L","P","R","K"],"range":["#1f77b4","#ff7f0e","#2ca02c","#d62728","#9467bd"]}}}}
]}},
{"transform":[{"filter":"datum.d=='AIDS'"}],
"facet":{"column":{"field":"m","type":"nominal","sort":["Cox PH","DeepSurv","DeepHit","Logistic Hazard","N-MTLR"],"title":null,"header":{"labels":false}}},
"spacing":8,
"spec":{"width":196,"height":94,"layer":[
{"mark":{"type":"errorband","opacity":0.2,"clip":true},"encoding":{"x":{"field":"x","type":"quantitative","scale":{"domain":[10,90],"nice":false},"axis":{"values":[20,40,60,80],"labels":false,"title":null}},"y":{"field":"y","type":"quantitative","scale":{"domain":[0.163,0.486],"nice":false,"zero":false},"axis":{"values":[0.2,0.4],"format":".2f","title":["AIDS","IBS"]}},"yError":{"field":"e"},"color":{"field":"s","type":"nominal","scale":{"domain":["S","L","P","R","K"],"range":["#1f77b4","#ff7f0e","#2ca02c","#d62728","#9467bd"]}}}},
{"mark":{"type":"line","strokeWidth":1.6,"clip":true},"encoding":{"x":{"field":"x","type":"quantitative","scale":{"domain":[10,90],"nice":false},"axis":{"values":[20,40,60,80],"labels":false,"title":null}},"y":{"field":"y","type":"quantitative","scale":{"domain":[0.163,0.486],"nice":false,"zero":false},"axis":{"values":[0.2,0.4],"format":".2f","title":["AIDS","IBS"]}},"color":{"field":"s","type":"nominal","scale":{"domain":["S","L","P","R","K"],"range":["#1f77b4","#ff7f0e","#2ca02c","#d62728","#9467bd"]}}}}
]}},
{"transform":[{"filter":"datum.d=='SUPPORT'"}],
"facet":{"column":{"field":"m","type":"nominal","sort":["Cox PH","DeepSurv","DeepHit","Logistic Hazard","N-MTLR"],"title":null,"header":{"labels":false}}},
"spacing":8,
"spec":{"width":196,"height":94,"layer":[
{"mark":{"type":"errorband","opacity":0.2,"clip":true},"encoding":{"x":{"field":"x","type":"quantitative","scale":{"domain":[10,90],"nice":false},"axis":{"values":[20,40,60,80],"labelExpr":"datum.value+'%'","title":"Censored Data"}},"y":{"field":"y","type":"quantitative","scale":{"domain":[0.087,0.473],"nice":false,"zero":false},"axis":{"values":[0.2,0.4],"format":".2f","title":["SUPPORT","IBS"]}},"yError":{"field":"e"},"color":{"field":"s","type":"nominal","scale":{"domain":["S","L","P","R","K"],"range":["#1f77b4","#ff7f0e","#2ca02c","#d62728","#9467bd"]}}}},
{"mark":{"type":"line","strokeWidth":1.6,"clip":true},"encoding":{"x":{"field":"x","type":"quantitative","scale":{"domain":[10,90],"nice":false},"axis":{"values":[20,40,60,80],"labelExpr":"datum.value+'%'","title":"Censored Data"}},"y":{"field":"y","type":"quantitative","scale":{"domain":[0.087,0.473],"nice":false,"zero":false},"axis":{"values":[0.2,0.4],"format":".2f","title":["SUPPORT","IBS"]}},"color":{"field":"s","type":"nominal","scale":{"domain":["S","L","P","R","K"],"range":["#1f77b4","#ff7f0e","#2ca02c","#d62728","#9467bd"]},"legend":{"orient":"none","legendX":224,"legendY":659,"direction":"horizontal","columns":5,"title":null,"symbolType":"stroke","symbolSize":500,"symbolStrokeWidth":2,"symbolOpacity":1,"labelFontSize":14.5,"labelColor":"#262626","strokeColor":"#cccccc","padding":5,"cornerRadius":3,"columnPadding":34,"labelOffset":12,"fillColor":"white","encode":{"symbols":{"update":{"opacity":{"value":1},"strokeOpacity":{"value":1},"fillOpacity":{"value":1}}}},"labelExpr":"datum.label=='S'?'Step':datum.label=='L'?'Linear':datum.label=='P'?'PWE':datum.label=='R'?'Spline':'KM'"}}}}
]}}
]
}
